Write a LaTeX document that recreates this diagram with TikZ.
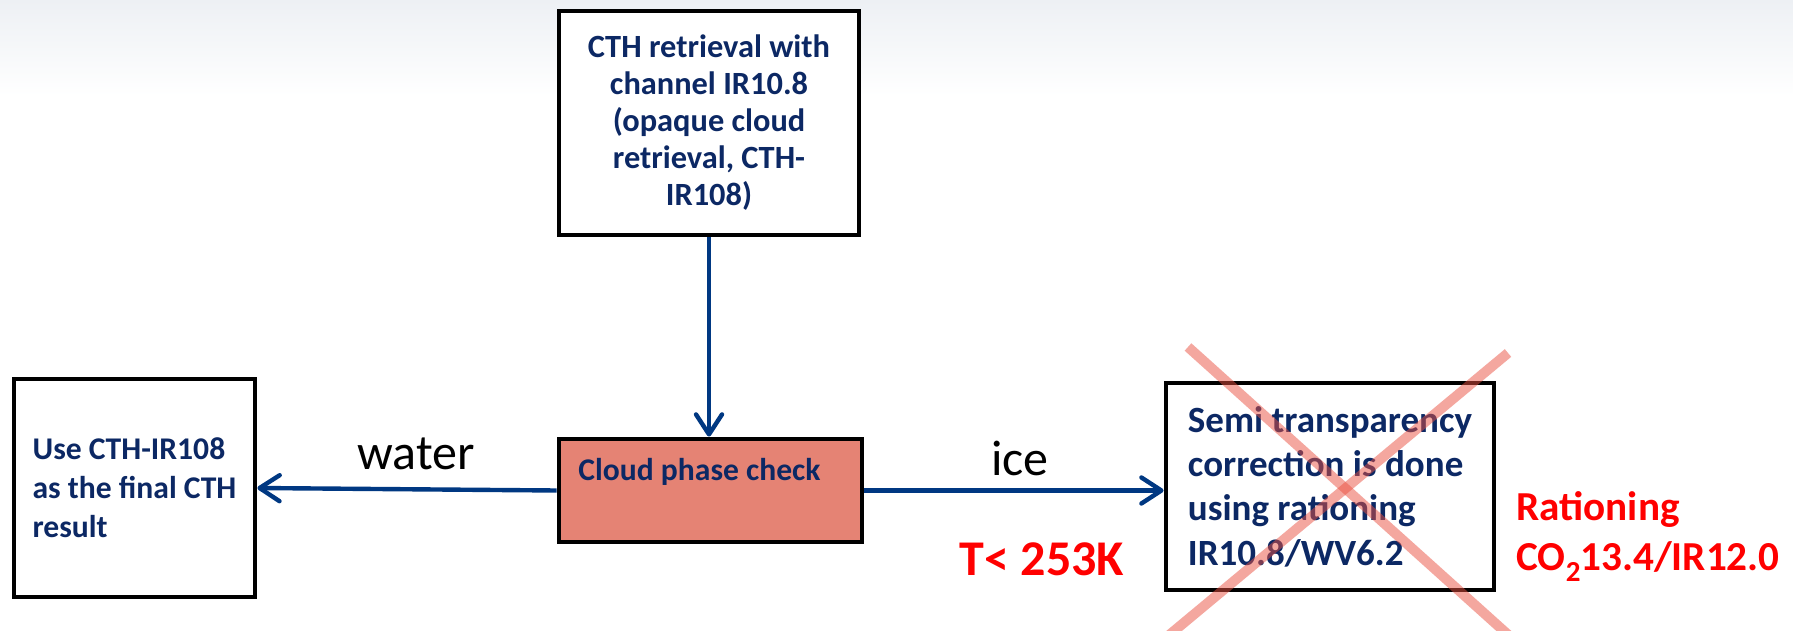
\documentclass[tikz,border=0pt]{standalone}
\usepackage{fontspec}
\setmainfont{Carlito}
\usetikzlibrary{arrows.meta}
\definecolor{navy}{RGB}{12,40,100}
\definecolor{arrowblue}{RGB}{0,56,130}
\definecolor{salmon}{RGB}{229,131,116}
\definecolor{crossred}{RGB}{235,80,65}
\definecolor{bgtop}{RGB}{237,240,244}
\definecolor{alertred}{RGB}{255,0,0}
\begin{document}
\begin{tikzpicture}[x=0.5pt,y=-0.5pt,
  box/.style={draw=black, line width=2.4pt, fill=white, inner sep=0pt, text=navy},
  flow/.style={draw=arrowblue, line width=2.2pt, -{Straight Barb[length=10pt,width=13pt,round]}},
  lbl/.style={inner sep=0pt, anchor=base},
  redlbl/.style={inner sep=0pt, text=alertred},
  crossline/.style={draw=crossred, opacity=0.5, line width=5pt}
]
\useasboundingbox (0,0) rectangle (1793,631);
\fill[white] (0,0) rectangle (1793,631);
\shade[top color=bgtop, bottom color=white] (0,0) rectangle (1793,96);

\node[box, minimum width=150pt, minimum height=112pt, align=center,
  font=\bfseries\fontsize{16.2}{18.5}\selectfont] (cth) at (709,123)
  {CTH retrieval with\\channel IR10.8\\(opaque cloud\\retrieval, CTH-\\IR108)};

\node[box, minimum width=120.5pt, minimum height=109pt, align=left,
  font=\bfseries\fontsize{15.8}{19.5}\selectfont] (final) at (134.5,488)
  {Use CTH-IR108\\as the final CTH\\result};

\node[box, fill=salmon, minimum width=151.5pt, minimum height=51.5pt] (phase) at (710.5,490.5) {};
\node[inner sep=0pt, anchor=base west, text=navy,
  font=\bfseries\fontsize{15.8}{18}\selectfont] (phasetext) at (578,480) {Cloud phase check};

\node[box, minimum width=164pt, minimum height=103.5pt, align=left,
  font=\bfseries\fontsize{18.5}{22.2}\selectfont] (semi) at (1330,486.5)
  {Semi transparency\\correction is done\\using rationing\\IR10.8/WV6.2};

\draw[flow] (cth.south) -- (cth.south |- phase.north);
\draw[flow] (phase.west) -- (final.east);
\draw[flow] (phase.east) -- (phase.east -| semi.west);

\node[lbl, font=\fontsize{25}{29}\selectfont] (water) at (416,469) {water};
\node[lbl, font=\fontsize{25}{29}\selectfont] (ice) at (1020,475) {ice};
\node[lbl, redlbl, font=\bfseries\fontsize{25}{30}\selectfont] (temp) at (1042,575) {T< 253K};
\node[redlbl, anchor=base west, font=\bfseries\fontsize{20.6}{25}\selectfont] (rat1) at (1516,520) {Rationing};
\node[redlbl, anchor=base west, font=\bfseries\fontsize{20.6}{25}\selectfont] (rat2) at (1516,570)
  {CO\raisebox{-5.5pt}{\fontsize{14.5}{15}\selectfont 2}13.4/IR12.0};

\begin{scope}
\clip (0,0) rectangle (1793,631);
\coordinate (c1a) at (1188,347);
\coordinate (c1b) at (1515,641);
\coordinate (c2a) at (1508,353);
\coordinate (c2b) at (1162,641);
\draw[crossline] (c1a) -- (c1b);
\draw[crossline] (c2a) -- (c2b);
\end{scope}
\end{tikzpicture}
\end{document}
